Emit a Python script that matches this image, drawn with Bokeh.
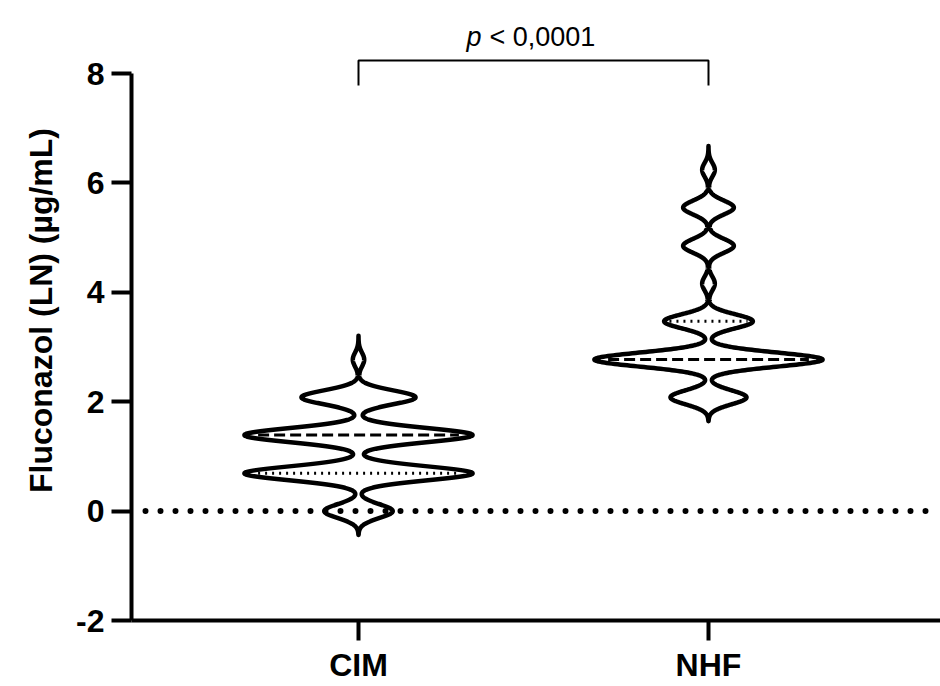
import numpy as np
from bokeh.plotting import figure
from bokeh.models import FixedTicker, Range1d, Span
from bokeh.core.properties import value
from bokeh.embed import file_html
from bokeh.resources import INLINE

# ---- data (ln of fluconazole MIC, counts per level) ----
groups = ["CIM", "NHF"]
group_pos = [1, 2]
cim_ln_mic = [0.0, 0.69, 1.39, 2.08, 2.77]
cim_counts = [6, 20, 20, 10, 1]
nhf_ln_mic = [2.08, 2.77, 3.47, 4.16, 4.85, 5.55, 6.24]
nhf_counts = [6, 18, 7, 1, 4, 4, 1]
y_ticks = [-2, 0, 2, 4, 6, 8]
y_tick_labels = ["-2", "0", "2", "4", "6", "8"]
y_label = "Fluconazol (LN) (µg/mL)"
p_symbol = "p"
p_value_text = "< 0,0001"
reference_level = 0

FONT = "Liberation Sans"
BW = 0.128          # KDE bandwidth
HALF_W = 0.326      # max half-width of a violin (x units)
TAIL = 3.4          # tail extent in bandwidths

p = figure(width=940, height=686,
           x_range=Range1d(0.3514, 2.6629), y_range=Range1d(-2, 9.335),
           output_backend="svg", toolbar_location=None,
           min_border_left=131, min_border_right=0,
           min_border_top=0, min_border_bottom=66)
p.outline_line_color = None
p.grid.visible = False
p.background_fill_color = "white"
p.border_fill_color = "white"

# reference dotted line at 0
p.add_layout(Span(location=reference_level, dimension="width", line_color="black",
                  line_width=6, line_dash="0 15", line_cap="round",
                  line_dash_offset=1, level="underlay"))

def violin(center, vals, counts):
    vals = np.asarray(vals, float)
    counts = np.asarray(counts, float)
    grid = np.linspace(vals.min() - TAIL * BW, vals.max() + TAIL * BW, 800)
    dens = (counts[None, :] * np.exp(-(grid[:, None] - vals[None, :]) ** 2 / (2 * BW ** 2))).sum(axis=1)
    w = dens / dens.max() * HALF_W
    xs = np.concatenate([center + w, (center - w)[::-1]])
    ys = np.concatenate([grid, grid[::-1]])
    p.patch(xs, ys, fill_alpha=0, line_color="black", line_width=4.5, line_join="round")
    data = np.repeat(vals, counts.astype(int))
    q1, med, q3 = np.percentile(data, [25, 50, 75])
    for q in (q1, q3):
        if abs(q - med) > 1e-9:
            hw = np.interp(q, grid, w) * 0.88
            p.line([center - hw, center + hw], [q, q], line_color="black",
                   line_width=3, line_dash="2 5")
    hw = np.interp(med, grid, w) * 0.88
    p.line([center - hw, center + hw], [med, med], line_color="black",
           line_width=3, line_dash="11 5")

violin(group_pos[0], cim_ln_mic, cim_counts)
violin(group_pos[1], nhf_ln_mic, nhf_counts)

# significance bracket
b_top, b_drop = 8.24, 0.46
p.line([group_pos[0], group_pos[0], group_pos[1], group_pos[1]],
       [b_top - b_drop, b_top, b_top, b_top - b_drop],
       line_color="black", line_width=2)
mid = (group_pos[0] + group_pos[1]) / 2
p.text(x=[mid], y=[8.66], text=[p_symbol], text_font=value(FONT), text_font_size="27px",
       text_font_style="italic", text_align="right", text_baseline="alphabetic",
       x_offset=-52, text_color="black")
p.text(x=[mid], y=[8.66], text=[p_value_text], text_font=value(FONT), text_font_size="27px",
       text_align="left", text_baseline="alphabetic", x_offset=-44, text_color="black")

# axes
for ax in (p.xaxis, p.yaxis):
    ax.axis_line_width = 4
    ax.axis_line_color = "black"
    ax.major_tick_line_width = 4
    ax.major_tick_line_color = "black"
    ax.major_tick_in = 0
    ax.major_tick_out = 20
    ax.minor_tick_line_color = None
    ax.major_label_text_font = FONT
    ax.major_label_text_font_style = "bold"
    ax.major_label_text_font_size = "32px"
    ax.major_label_text_color = "black"

p.xaxis.ticker = FixedTicker(ticks=group_pos)
p.xaxis.major_label_overrides = {gp: g for gp, g in zip(group_pos, groups)}
p.xaxis.major_label_standoff = 6

p.yaxis.ticker = FixedTicker(ticks=y_ticks)
p.yaxis.major_label_overrides = {t: s for t, s in zip(y_ticks, y_tick_labels)}
p.yaxis.bounds = (y_ticks[0], y_ticks[-1])
p.yaxis.major_label_standoff = 7
p.yaxis.axis_label = y_label
p.yaxis.axis_label_text_font = FONT
p.yaxis.axis_label_text_font_style = "bold"
p.yaxis.axis_label_text_font_size = "32px"
p.yaxis.axis_label_text_color = "black"
p.yaxis.axis_label_standoff = 14

open("out.html", "w").write(file_html(p, INLINE))
